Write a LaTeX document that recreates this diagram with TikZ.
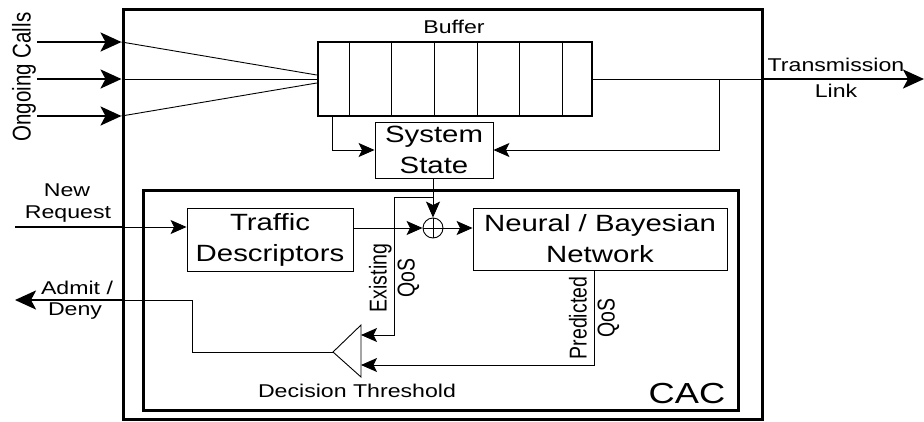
\documentclass[tikz,border=0pt]{standalone}
\usepackage{fontspec}
\setmainfont{Liberation Sans}
\newfontfamily\widefont[FakeStretch=1.25]{Liberation Sans}
\usetikzlibrary{arrows.meta,calc}
\begin{document}
\begin{tikzpicture}[x=1pt,y=-1pt,
  thinline/.style={line width=0.9pt},
  thickline/.style={line width=2.6pt},
  head/.style={-{Stealth[length=16pt,width=14pt,inset=3.5pt]}},
  bighead/.style={-{Stealth[length=21pt,width=19pt,inset=5pt]}},
  blk/.style={draw, line width=0.9pt, inner sep=0pt, font=\widefont\fontsize{23.5}{31}\selectfont, align=center},
  lbl/.style={font=\widefont\fontsize{18.5}{22}\selectfont, inner sep=0pt, anchor=base},
  vlbl/.style={font=\fontsize{19.5}{22.4}\selectfont, rotate=90, yscale=1.25, align=center, inner sep=0pt},
]
\useasboundingbox (0,0) rectangle (924,421);

% frames
\node[draw, line width=3pt, minimum width=639pt, minimum height=410pt, inner sep=0pt] (sys) at (442.5,214) {};
\node[draw, line width=3pt, minimum width=595pt, minimum height=220pt, inner sep=0pt] (cac) at (440.5,300) {};

% buffer
\node[draw, line width=2.5pt, minimum width=274pt, minimum height=74pt, inner sep=0pt] (buf) at (455,79) {};
\foreach \x in {349,391,434,477,519,562}
  \draw[thinline] (\x,0 |- buf.north) -- (\x,0 |- buf.south);
\node[lbl] (buflbl) at (454,33) {Buffer};

% blocks
\node[blk, minimum width=118pt, minimum height=56pt] (ss) at (434,150) {System\\State};
\node[blk, minimum width=166pt, minimum height=63pt] (td) at (270,239.5) {Traffic\\Descriptors};
\node[blk, minimum width=254pt, minimum height=62pt] (nn) at (600,239) {Neural / Bayesian\\Network};
\node[draw, circle, thinline, minimum size=20pt, inner sep=0pt] (sum) at (433,228) {};
\draw[thinline] (sum.north) -- (sum.south) (sum.west) -- (sum.east);

% comparator
\coordinate (cmp) at (333,352);
\coordinate (cmpA) at (361,335);
\coordinate (cmpB) at (361,365);
\draw[thinline] (cmp) -- (361,325) -- (361,377) -- cycle;

% ongoing calls
\foreach \y/\yy [count=\i] in {42/75,79/79,116/83} {
  \coordinate (a\i) at (37,\y);
  \coordinate (b\i) at (sys.west |- a\i);
  \coordinate (c\i) at (buf.west |- 0,\yy);
  \draw[thickline, bighead] (a\i) -- (b\i);
  \draw[thinline] (b\i) -- (c\i);
}
\node[vlbl, font=\fontsize{20.5}{24}\selectfont] (oc) at (24,77) {Ongoing Calls};

% transmission link
\coordinate (o) at (sys.east |- buf.east);
\coordinate (tl) at (924,79);
\coordinate (fb) at (719,79);
\draw[thinline] (buf.east) -- (o);
\draw[thickline, bighead] (o) -- (tl);
\node[lbl] (tr1) at (836,71) {Transmission};
\node[lbl] (tr2) at (836,97) {Link};

% system state inputs
\draw[thinline, head] (fb) |- (ss.east);
\draw[thinline, head] (332,0 |- buf.south) |- (ss.west);
\draw[thinline, head] (sum |- ss.south) -- (sum.north);

% new request
\coordinate (nr) at (15,227);
\coordinate (nrb) at (sys.west |- nr);
\draw[thickline] (nr) -- (nrb);
\draw[thinline, head] (nrb) -- (nr -| td.west);
\node[lbl] (nr1) at (67,196) {New};
\node[lbl] (nr2) at (68,218) {Request};

% CAC internals
\draw[thinline, head] (td.east |- sum) -- (sum.west);
\draw[thinline, head] (sum.east) -- (sum -| nn.west);
\coordinate (eq) at (sum |- 0,197);
\coordinate (ex) at (394,197);
\draw[thinline, head] (eq) -- (ex) -- (ex |- cmpA) -- (cmpA);
\node[vlbl] (exl) at (394,278) {Existing\\QoS};
\coordinate (pq) at (594,0 |- nn.south);
\draw[thinline, head] (pq) |- (cmpB);
\node[vlbl] (pql) at (594,318) {Predicted\\QoS};

% admit / deny
\coordinate (ad) at (15,300);
\coordinate (adb) at (sys.west |- ad);
\draw[thinline] (cmp) -- (192,352) -- (192,300) -- (adb);
\draw[thickline, bighead] (adb) -- (ad);
\node[lbl] (ad1) at (77,294) {Admit /};
\node[lbl] (ad2) at (75,315) {Deny};

\node[lbl] (dt) at (357,397) {Decision Threshold};
\node[lbl, font=\widefont\fontsize{29}{33}\selectfont] (caclbl) at (687,403) {CAC};
\end{tikzpicture}
\end{document}
